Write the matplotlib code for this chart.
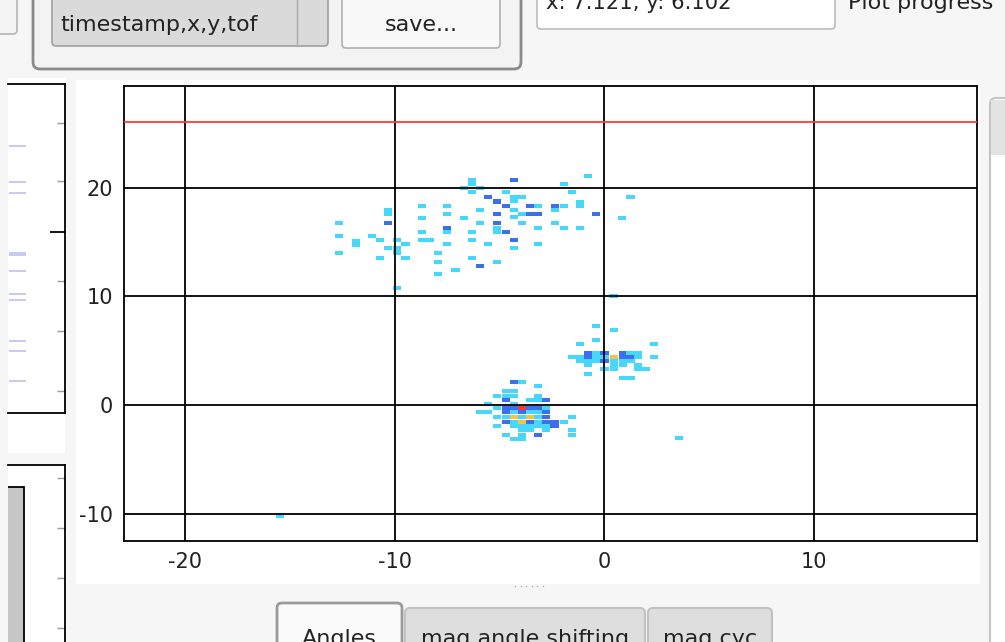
import matplotlib
matplotlib.use("Agg")
import matplotlib.pyplot as plt
from matplotlib.patches import FancyBboxPatch, Rectangle
import numpy as np

plt.rcParams['font.family'] = ['DejaVu Sans']
plt.rcParams['axes.unicode_minus'] = False

W, H = 1005, 642

# --- 2d histogram cells (centre x, centre y, count) ---
# upper diffuse cloud
upper_x = [-0.80, -4.32, -6.30, -6.30, -1.94, -6.70, -5.94, -6.30, -4.71, -1.54,
           1.24, -5.54, -4.32, -3.92, -5.11, -4.32,
           -8.68, -7.49, -4.71, -3.56, -3.17, -2.37, -1.94, -1.17, -1.17,
           -5.94, -2.37, -10.32, -10.32,
           -7.49, -5.11, -4.32, -4.32, -3.92, -3.56, -3.17, -0.41,
           -8.68, -6.70, 0.84,
           -12.65, -10.32, -5.94, -5.11, -3.92, -2.37,
           -7.49, -5.11, -5.11, -3.17, -1.94, -1.17,
           -8.68, -7.49, -6.30, -4.71,
           -12.65, -11.06,
           -10.70, -9.87, -8.68, -8.30, -6.30, -4.32,
           -11.86, -11.86, -9.48, -7.49, -5.54, -3.17,
           -10.32, -9.87, -9.87, -4.32,
           -12.65, -7.94,
           -10.70, -9.48, -6.30,
           -7.94, -5.11,
           -5.94, -7.10, -7.94, -9.87]
upper_y = [21.07, 20.70, 20.70, 20.33, 20.33, 19.94, 19.94, 19.56, 19.56, 19.56,
           19.17, 19.17, 19.17, 19.17, 18.72, 18.80,
           18.34, 18.34, 18.34, 18.34, 18.34, 18.34, 18.34, 18.70, 18.34,
           17.94, 17.96, 17.94, 17.57,
           17.57, 17.57, 17.94, 17.33, 17.57, 17.57, 17.57, 17.57,
           17.17, 17.17, 17.17,
           16.71, 16.71, 16.71, 16.71, 16.71, 16.71,
           16.25, 16.30, 15.92, 16.25, 16.25, 16.25,
           15.89, 15.89, 15.89, 15.89,
           15.55, 15.55,
           15.18, 15.18, 15.18, 15.18, 15.18, 15.18,
           15.12, 14.75, 14.81, 14.81, 14.81, 14.81,
           14.41, 14.41, 14.03, 14.41,
           14.01, 14.01,
           13.49, 13.49, 13.49,
           13.12, 13.12,
           12.79, 12.42, 12.02, 10.73]
upper_n = [1, 2, 1, 1, 1, 1, 1, 1, 1, 1,
           1, 2, 1, 1, 2, 1,
           1, 1, 2, 2, 1, 2, 1, 1, 1,
           1, 1, 1, 1,
           1, 2, 1, 1, 1, 2, 2, 2,
           1, 1, 1,
           1, 2, 1, 2, 1, 1,
           2, 1, 1, 1, 1, 1,
           1, 1, 1, 2,
           1, 1,
           1, 1, 1, 1, 1, 2,
           1, 1, 1, 1, 1, 1,
           1, 1, 1, 1,
           1, 1,
           1, 1, 1,
           1, 1,
           2, 1, 1, 1]

# dense spot near (-4, -1)
lower_x = [-4.32, -3.92, -3.17, -4.70, -4.32,
           -5.11, -4.70, -4.32, -3.17,
           -4.70, -3.56, -3.17, -2.79, -5.56, -4.32,
           -5.11, -4.70, -4.32, -3.92, -3.56, -3.17, -2.79,
           -5.95, -5.56, -4.70, -4.32, -3.92, -3.56, -3.17, -2.79,
           -5.11, -4.70, -4.32, -3.92, -3.56, -3.17, -2.79, -1.54,
           -4.70, -4.32, -3.92, -3.56, -3.17, -2.79, -2.38, -1.94,
           -5.11, -4.32, -3.92, -3.56, -3.17, -2.79, -2.38,
           -3.92, -3.56, -2.79, -1.54, -1.54,
           -4.70, -3.92, -3.17, -4.32, -3.92]
lower_y = [2.09, 2.09, 1.72, 1.29, 1.29,
           0.83, 0.83, 0.83, 0.83,
           0.43, 0.43, 0.43, 0.43, 0.12, 0.12,
           -0.25, -0.25, -0.25, -0.25, -0.25, -0.25, -0.25,
           -0.64, -0.64, -0.64, -0.64, -0.64, -0.64, -0.64, -0.64,
           -1.07, -1.07, -1.07, -1.07, -1.07, -1.07, -1.07, -1.07,
           -1.53, -1.53, -1.53, -1.53, -1.53, -1.53, -1.53, -1.53,
           -1.93, -1.93, -1.93, -1.93, -1.93, -1.93, -1.93,
           -2.33, -2.33, -2.33, -2.33, -2.73,
           -2.73, -2.73, -2.73, -3.10, -3.10]
lower_n = [2, 1, 1, 1, 1,
           1, 1, 1, 1,
           2, 1, 1, 2, 1, 1,
           1, 2, 2, 4, 2, 2, 1,
           1, 1, 2, 1, 2, 1, 1, 2,
           1, 1, 3, 1, 3, 1, 2, 1,
           2, 1, 3, 2, 1, 2, 2, 1,
           1, 1, 1, 1, 1, 1, 2,
           1, 1, 1, 1, 1,
           1, 1, 2, 1, 1]

# spot near (0.3, 4.5)
right_x = [-0.40, 0.44, -0.40, -1.17, 2.35,
           -0.79, -0.40, 0.00, 0.87, 1.24, 1.60,
           -1.54, -1.17, -0.79, -0.40, 0.00, 0.44, 0.87, 1.24, 1.60, 2.35,
           -1.17, -0.79, -0.40, 0.00, 0.44, 0.87, 1.24,
           -0.79, 0.44, 0.87, 1.60,
           0.00, 0.44, 1.60, 2.00,
           -0.79, 0.87, 1.24]
right_y = [7.27, 6.90, 5.98, 5.61, 5.61,
           4.81, 4.81, 4.81, 4.81, 4.81, 4.81,
           4.45, 4.45, 4.45, 4.45, 4.45, 4.45, 4.45, 4.45, 4.45, 4.45,
           4.05, 4.05, 4.05, 4.05, 4.05, 4.05, 4.05,
           3.65, 3.65, 3.65, 3.65,
           3.28, 3.28, 3.28, 3.28,
           2.88, 2.48, 2.48]
right_n = [1, 1, 1, 1, 1,
           2, 1, 2, 2, 1, 1,
           1, 1, 2, 1, 1, 3, 2, 2, 1, 1,
           1, 1, 1, 2, 1, 1, 1,
           1, 1, 1, 1,
           1, 1, 1, 1,
           1, 1, 1]

# isolated hits
stray_x = [0.43, 3.57, -15.48]
stray_y = [10.03, -3.04, -10.21]
stray_n = [1, 1, 1]

bin_w, bin_h = 0.39, 0.38
count_colors = ['#46d7fa', '#3c6ef0', '#f5c33c', '#f03c3c']

xticks = [-20, -10, 0, 10]
yticks = [-10, 0, 10, 20]
xlim = (-22.9, 17.76)
ylim = (-12.51, 29.35)
red_level = 26.0

# side panels (pixel-ish units of those clipped plots)
left_dash_y = [146, 182, 193, 253, 255, 271, 294, 300, 341, 351, 381]
left_minor_ticks = [123, 181, 281, 331, 391]
left_major_ticks = [232]
bottom_minor_ticks = [478, 528, 578, 628]

tab_names = ['Angles', 'mag angle shifting', 'mag cyc']
tab_left = [277, 405, 648]
tab_right = [402, 645, 772]


def box(x0, y0, x1, y1):
    return [x0 / W, 1 - y1 / H, (x1 - x0) / W, (y1 - y0) / H]


def rbox(ax, x0, y0, x1, y1, fc, ec, lw=1.2, r=4):
    p = FancyBboxPatch((x0, y0), x1 - x0, y1 - y0,
                       boxstyle=f'round,pad=0,rounding_size={r}',
                       fc=fc, ec=ec, lw=lw)
    ax.add_patch(p)


fig = plt.figure(figsize=(W / 100, H / 100), dpi=100, facecolor='#f6f6f6')

# background widgets
bg = fig.add_axes([0, 0, 1, 1], zorder=0)
bg.set_xlim(0, W)
bg.set_ylim(H, 0)
bg.axis('off')

bg.add_patch(Rectangle((76, 80), 904, 504, fc='white', ec='none'))
bg.add_patch(Rectangle((8, 78), 57, 375, fc='white', ec='none'))
bg.add_patch(Rectangle((8, 465), 57, 200, fc='white', ec='none'))

rbox(bg, -20, -10, 17, 34, '#f4f4f4', '#b5b5b5')
rbox(bg, 33, -20, 521, 69, '#f3f3f3', '#8a8a8a', lw=2, r=7)
rbox(bg, 52, -10, 328, 46, '#dadada', '#a0a0a0')
bg.plot([297, 297], [0, 46], color='#aaaaaa', lw=1)
rbox(bg, 342, -10, 500, 48, '#f8f8f8', '#b0b0b0')
rbox(bg, 537, -10, 835, 29, 'white', '#bcbcbc')
bg.text(60, 31, 'timestamp,x,y,tof', va='baseline', ha='left', fontsize=16, color='#222222')
bg.text(421, 31, 'save...', va='baseline', ha='center', fontsize=16, color='#222222')
bg.text(546, 9, 'x: 7.121, y: 6.102', va='baseline', ha='left', fontsize=15.2, color='#222222')
bg.text(848, 9, 'Plot progress', va='baseline', ha='left', fontsize=16, color='#222222')

# right side panel
rbox(bg, 990, 98, 1030, 700, 'white', '#c4c4c4', lw=1.5, r=6)
bg.add_patch(Rectangle((991, 100), 30, 55, fc='#e3e3e3', ec='none'))

# tabs at the bottom
for i, name in enumerate(tab_names):
    top = 603 if i == 0 else 608
    fc = '#fafafa' if i == 0 else '#dedede'
    ec = '#9a9a9a' if i == 0 else '#c2c2c2'
    rbox(bg, tab_left[i], top, tab_right[i], 670, fc, ec, lw=2 if i == 0 else 1.5, r=5)
    bg.text((tab_left[i] + tab_right[i]) / 2, 645, name, ha='center', va='baseline',
            fontsize=16, color='#222222')
bg.scatter(np.linspace(515, 543, 6), [586] * 6, s=1.2, color='#b0b0b0', lw=0)

# main histogram plot
ax = fig.add_axes(box(124, 86, 977, 541), zorder=2)
ax.set_facecolor('white')
for xs, ys, ns in [(upper_x, upper_y, upper_n), (lower_x, lower_y, lower_n),
                   (right_x, right_y, right_n), (stray_x, stray_y, stray_n)]:
    cols = [count_colors[n - 1] for n in ns]
    ax.bar(xs, bin_h, width=bin_w, bottom=np.array(ys) - bin_h / 2,
           color=cols, linewidth=0, zorder=1)
ax.axhline(red_level, color='#ff3b3b', lw=1.3, zorder=3)
ax.set_xlim(*xlim)
ax.set_ylim(*ylim)
ax.set_xticks(xticks)
ax.set_yticks(yticks)
ax.grid(True, color='black', lw=1.3)
ax.set_axisbelow(False)
ax.tick_params(length=0, pad=8, labelsize=15, labelcolor='#222222')
for s in ax.spines.values():
    s.set_linewidth(1.3)
    s.set_color('black')

# clipped left plots
al = fig.add_axes(box(8, 84, 65, 413), zorder=2)
al.set_xlim(0, 57)
al.set_ylim(413, 84)
al.spines['left'].set_visible(False)
for s in ['top', 'right', 'bottom']:
    al.spines[s].set_linewidth(1.3)
al.hlines(left_dash_y, 1, 18, color='#c8c8f6', lw=1.4)
al.yaxis.tick_right()
al.set_yticks(left_major_ticks)
al.set_yticks(left_minor_ticks, minor=True)
al.set_xticks([])
al.tick_params(which='major', direction='in', length=11, width=1.3, color='black', labelright=False)
al.tick_params(which='minor', direction='in', length=6, width=1, color='#9a9a9a')

ab = fig.add_axes(box(8, 465, 65, 690), zorder=2)
ab.set_xlim(0, 57)
ab.set_ylim(690, 465)
ab.spines['left'].set_visible(False)
ab.spines['bottom'].set_visible(False)
for s in ['top', 'right']:
    ab.spines[s].set_linewidth(1.3)
ab.add_patch(Rectangle((-2, 487), 18, 300, fc='#c6c6c6', ec='black', lw=1.3))
ab.yaxis.tick_right()
ab.set_yticks([])
ab.set_yticks(bottom_minor_ticks, minor=True)
ab.set_xticks([])
ab.tick_params(which='minor', direction='in', length=6, width=1, color='#9a9a9a')

fig.savefig('out.png', dpi=100, facecolor=fig.get_facecolor())
